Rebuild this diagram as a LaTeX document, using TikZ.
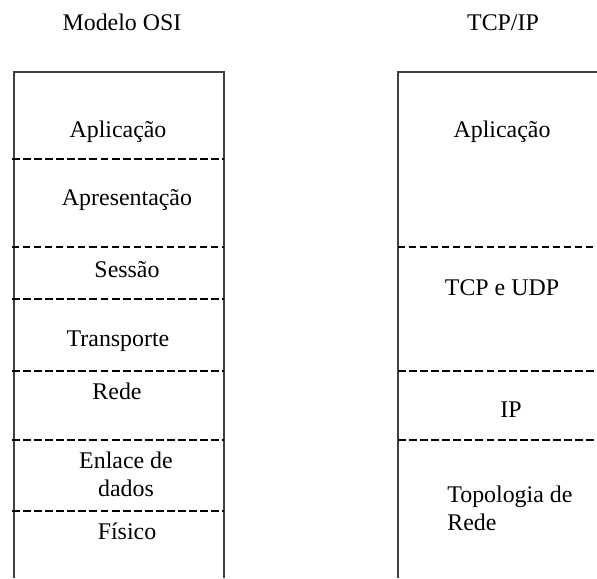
\documentclass[tikz,border=0pt]{standalone}
\usepackage{fontspec}
\setmainfont{Liberation Serif}
\usetikzlibrary{positioning}

\tikzset{
  layer/.style={font=\fontsize{13.6}{15.4}\selectfont, inner sep=0pt, anchor=base},
  heavy/.style={line width=1.6pt, dash pattern=on 4.5pt off 1.8pt},
  light/.style={line width=0.7pt, dash pattern=on 4pt off 2.3pt},
  wall/.style={line width=1.1pt, black!75}
}

\begin{document}
\begin{tikzpicture}[x=0.02cm, y=-0.02cm]
\useasboundingbox (0,0) rectangle (597,578);

\draw[wall] (14,578) -- (14,72) -- (224,72) -- (224,578);
\draw[wall] (398,578) -- (398,72) -- (597,72);

\draw[heavy] (12,159) -- (224,159);
\draw[light] (12,247) -- (224,247);
\draw[heavy] (12,299) -- (224,299);
\draw[heavy] (12,371) -- (224,371);
\draw[heavy] (12,440) -- (224,440);
\draw[heavy] (12,511) -- (224,511);

\draw[light] (398,247) -- (597,247);
\draw[heavy] (398,371) -- (597,371);
\draw[heavy] (398,440) -- (597,440);

\node[layer] at (122,31) (osi) {Modelo OSI};
\node[layer] at (118,137) (apl) {Aplicação};
\node[layer] at (127,205) (apr) {Apresentação};
\node[layer] at (127,277) (ses) {Sessão};
\node[layer] at (118,346) (tra) {Transporte};
\node[layer] at (117,399) (red) {Rede};
\node[layer, align=center] at (126,496) (enl) {Enlace de\\dados};
\node[layer] at (127,539) (fis) {Físico};

\node[layer] at (503,31) (tcpip) {TCP/IP};
\node[layer] at (502,137) (tapl) {Aplicação};
\node[layer] at (502,295) (ttcp) {TCP e UDP};
\node[layer] at (511,417) (tip) {IP};
\node[layer, align=left, anchor=base west] at (447,530) (ttop) {Topologia de\\Rede};
\end{tikzpicture}
\end{document}
